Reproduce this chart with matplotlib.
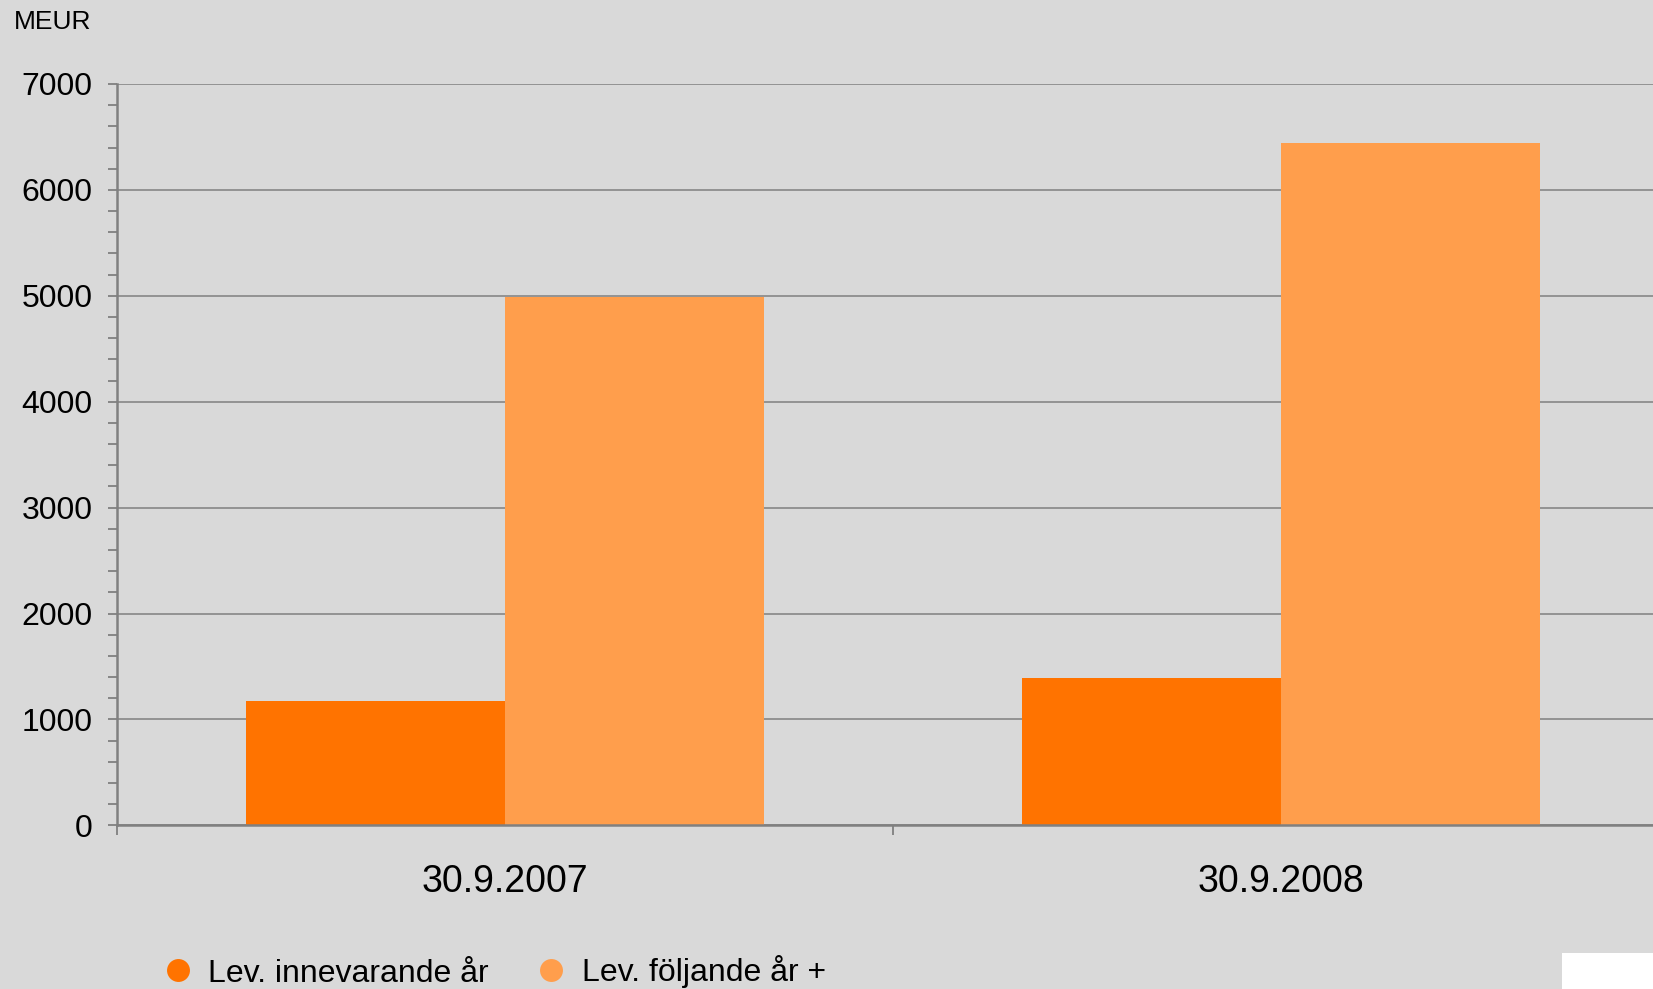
import matplotlib
matplotlib.use('Agg')
import matplotlib.pyplot as plt
import matplotlib.patches as patches
from matplotlib.lines import Line2D
from matplotlib.ticker import MultipleLocator, FixedLocator
import numpy as np

plt.rcParams['font.family'] = ['Liberation Sans', 'DejaVu Sans']

categories = ['30.9.2007', '30.9.2008']
series_names = ['Lev. innevarande år', 'Lev. följande år +']
current_year = [1175, 1390]
following_years = [4990, 6440]
colors = ['#ff7300', '#ff9e4c']

W, H = 1653, 989
bg = '#d9d9d9'
grid_c = '#808080'

fig = plt.figure(figsize=(W / 100, H / 100), dpi=100, facecolor=bg)
# axes: left at x=117px, right beyond figure edge (1669px), y from 825 to 84 px
ax = fig.add_axes([117 / W, (H - 825.3) / H, (1669 - 117) / W, (825.3 - 84) / H])
ax.set_facecolor(bg)

x = np.arange(len(categories))
bw = 0.334
ax.bar(x - bw / 2, current_year, bw, color=colors[0], zorder=2, label=series_names[0])
ax.bar(x + bw / 2, following_years, bw, color=colors[1], zorder=2, label=series_names[1])

ax.set_xlim(-0.5, len(categories) - 0.5)
ax.set_ylim(0, 7000)

ax.yaxis.set_major_locator(MultipleLocator(1000))
ax.yaxis.set_minor_locator(MultipleLocator(200))
ax.grid(axis='y', which='major', color=grid_c, linewidth=1.1, zorder=1)
ax.set_axisbelow(True)

ax.set_xticks(x)
ax.set_xticklabels(categories, fontsize=27)
ax.xaxis.set_minor_locator(FixedLocator([-0.5, 0.5, 1.5]))
ax.tick_params(axis='x', which='major', length=0, pad=28)
ax.tick_params(axis='x', which='minor', length=7, width=1.3, color=grid_c, direction='out')
ax.tick_params(axis='y', which='both', length=6.5, width=1.3, color=grid_c, direction='out',
               labelsize=23, pad=11)

for s in ['top', 'right']:
    ax.spines[s].set_visible(False)
for s in ['left', 'bottom']:
    ax.spines[s].set_color(grid_c)
    ax.spines[s].set_linewidth(1.8)
    ax.spines[s].set_zorder(3)

fig.text(14 / W, 1 - 22 / H, 'MEUR', fontsize=19, ha='left', va='center')

handles = [Line2D([], [], linestyle='none', marker='o', markersize=16.5,
                  markerfacecolor=c, markeredgecolor='none') for c in colors]
fig.legend(handles, series_names, loc='center left', bbox_to_anchor=(162 / W, 1 - 972 / H),
           ncol=2, frameon=False, fontsize=23, handlelength=1.0, handletextpad=0.45,
           columnspacing=1.45, borderpad=0, borderaxespad=0)

fig.add_artist(patches.Rectangle((1562 / W, 0), (W - 1562) / W, (H - 953) / H,
                                 transform=fig.transFigure, facecolor='white',
                                 edgecolor='none', zorder=5))

fig.savefig('out.png', dpi=100, facecolor=bg)
